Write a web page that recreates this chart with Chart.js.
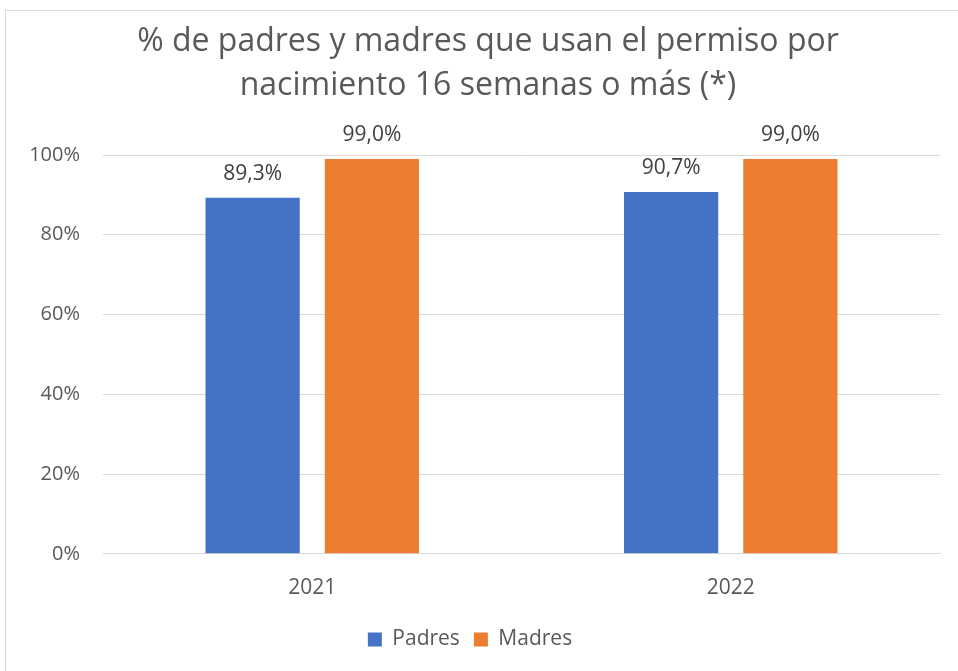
<!DOCTYPE html>
<html>
<head>
<meta charset="utf-8">
<script src="https://cdn.jsdelivr.net/npm/chart.js@4"></script>
<style>
  html, body { margin: 0; padding: 0; background: #fff; }
  .wrap { position: relative; width: 958px; height: 671px; }
</style>
</head>
<body>
<div class="wrap"><canvas id="chart"></canvas></div>
<script>
const years = ['2021', '2022'];
const padres = [89.3, 90.7];
const madres = [99.0, 99.0];
const yTicks = [0, 20, 40, 60, 80, 100];
const titleLines = ['% de padres y madres que usan el permiso por', 'nacimiento 16 semanas o más (*)'];

const FONT = "'Open Sans', 'Noto Sans', sans-serif";

// frame around the whole chart, like the spreadsheet chart box
const frame = {
    id: 'frame',
    beforeDraw(chart) {
        const ctx = chart.ctx;
        ctx.save();
        ctx.strokeStyle = '#d9d9d9';
        ctx.lineWidth = 1;
        ctx.strokeRect(5.5, 10.5, 1000, 700);
        ctx.restore();
    }
};

// two line title, centred on the chart box rather than the canvas
const chartTitle = {
    id: 'chartTitle',
    afterDraw(chart) {
        const ctx = chart.ctx;
        ctx.save();
        ctx.font = '32px ' + FONT;
        ctx.fillStyle = '#595959';
        ctx.textAlign = 'center';
        ctx.textBaseline = 'alphabetic';
        titleLines.forEach((line, i) => ctx.fillText(line, 488, 51 + i * 44));
        ctx.restore();
    }
};

// value labels above each bar
const barLabels = {
    id: 'barLabels',
    afterDatasetsDraw(chart) {
        const ctx = chart.ctx;
        ctx.save();
        ctx.font = '21px ' + FONT;
        ctx.fillStyle = '#404040';
        ctx.textAlign = 'center';
        ctx.textBaseline = 'alphabetic';
        chart.data.datasets.forEach((ds, i) => {
            chart.getDatasetMeta(i).data.forEach((bar, j) => {
                const txt = ds.data[j].toFixed(1).replace('.', ',') + '%';
                ctx.fillText(txt, bar.x, bar.y - 18);
            });
        });
        ctx.restore();
    }
};

const ctx = document.getElementById('chart').getContext('2d');

new Chart(ctx, {
    type: 'bar',
    data: {
        labels: years,
        datasets: [{
            label: 'Padres',
            data: padres,
            backgroundColor: '#4472c4',
            categoryPercentage: 0.57,
            barPercentage: 0.79,
        }, {
            label: 'Madres',
            data: madres,
            backgroundColor: '#ed7d31',
            categoryPercentage: 0.57,
            barPercentage: 0.79,
        }],
    },
    options: {
        responsive: true,
        maintainAspectRatio: false,
        animation: false,
        layout: { padding: { left: 0, right: 18, top: 155, bottom: 11 } },
        plugins: {
            title: { display: false },
            legend: {
                position: 'bottom',
                labels: {
                    color: '#595959',
                    font: { family: FONT, size: 21 },
                    boxWidth: 14,
                    boxHeight: 14,
                    padding: 14,
                },
            },
            tooltip: { enabled: false },
        },
        scales: {
            x: {
                grid: { display: false },
                border: { color: '#d9d9d9', width: 1 },
                ticks: { color: '#595959', font: { family: FONT, size: 21 }, padding: 14 },
            },
            y: {
                min: 0,
                max: 100,
                afterBuildTicks(scale) { scale.ticks = yTicks.map(v => ({ value: v })); },
                afterFit(scale) { scale.width = 103; },
                grid: { color: '#d9d9d9', drawTicks: false },
                border: { display: false },
                ticks: {
                    color: '#595959',
                    font: { family: FONT, size: 20 },
                    padding: 23,
                    callback: v => v + '%',
                },
            },
        },
    },
    plugins: [frame, chartTitle, barLabels],
});
</script>
</body>
</html>
